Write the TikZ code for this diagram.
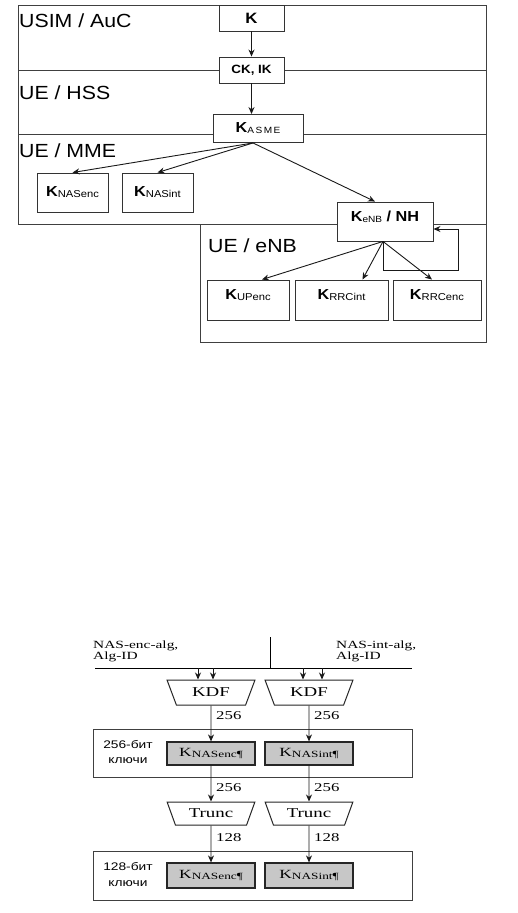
\documentclass[tikz,border=0pt]{standalone}
\usepackage{fontspec}
\setmainfont{Liberation Sans}
\newfontfamily\topf[FakeStretch=1.12]{Liberation Sans}
\newfontfamily\serw[FakeStretch=1.4]{Liberation Serif}
\newfontfamily\sanw[FakeStretch=1.25]{Liberation Sans}
\usetikzlibrary{arrows.meta,shapes.geometric}
\newcommand\myfs[1]{\fontsize{#1}{#1}\selectfont}
\newcommand\kk[2]{{\topf\bfseries\myfs{14.5}K}\raisebox{-1pt}{\topf\myfs{#1}#2}}
\newcommand\gk[1]{{\serw\myfs{12.5}K}\raisebox{-1.5pt}{\serw\myfs{9.5}#1}}
\begin{document}
\begin{tikzpicture}[x=1pt,y=-1pt,
  frame/.style={draw=black!75, line width=0.9pt},
  kbox/.style={draw=black!80, fill=white, line width=0.9pt, inner sep=0pt},
  lbl/.style={inner sep=0pt},
  arr/.style={-{Stealth[length=7pt,width=6pt]}, line width=0.9pt, draw=black!90},
  region/.style={font=\topf\myfs{19}, anchor=base west, inner sep=0pt},
  trap/.style={trapezium, shape border rotate=180, trapezium stretches=true,
    trapezium left angle=60, trapezium right angle=60, minimum width=88pt,
    draw=black!85, line width=1pt, inner sep=0pt, font=\serw\myfs{13.5}},
  gbox/.style={draw=black!85, fill=black!22, line width=1.2pt, minimum width=88pt, inner sep=0pt},
  obox/.style={draw=black!75, line width=1pt},
  num/.style={font=\serw\myfs{12}, anchor=west, inner sep=0pt},
  side/.style={font=\sanw\myfs{11}, align=center, inner sep=0pt},
  alg/.style={font=\serw\myfs{11}, align=left, anchor=north west, inner sep=0pt}
]
\useasboundingbox[fill=white] (0,0) rectangle (517,913);

% ---------- top diagram ----------
\draw[frame] (18,5) rectangle (486,224);
\draw[frame] (18,70) -- (486,70);
\draw[frame] (18,134) -- (486,134);
\draw[frame] (200,224) rectangle (486,342);

\node[region] (usim) at (19,27) {USIM / AuC};
\node[region] (hss) at (19,99) {UE / HSS};
\node[region] (mme) at (19,157) {UE / MME};
\node[region] (enb) at (208,252) {UE / eNB};

\node[kbox, minimum width=65pt, minimum height=26pt] (k) at (251.5,18) {\topf\bfseries\myfs{15}K};
\node[kbox, minimum width=65pt, minimum height=26pt] (ckik) at (251.5,70) {\topf\bfseries\myfs{12}CK, IK};
\node[kbox, minimum width=90pt, minimum height=28pt] (asme) at (258,128.5) {\kk{9}{A\,S\,M\,E}};

\node[kbox, minimum width=71pt, minimum height=39pt] (nasenc) at (72.5,192.5) {\kk{10}{NASenc}};
\node[kbox, minimum width=71pt, minimum height=39pt] (nasint) at (157.5,192.5) {\kk{10}{NASint}};
\node[kbox, minimum width=96pt, minimum height=39pt] (kenb) at (385,221.5) {};
\node[lbl] (kenbt) at ([yshift=4.5pt]kenb.center) {\kk{9}{eNB}{\topf\bfseries\myfs{14.5} / NH}};

\node[kbox, minimum width=82pt, minimum height=40pt] (upenc) at (248,300) {};
\node[kbox, minimum width=93pt, minimum height=40pt] (rrcint) at (341.5,300) {};
\node[kbox, minimum width=88pt, minimum height=40pt] (rrcenc) at (437,300) {};
\node[lbl] (upenct) at ([yshift=5pt]upenc.center) {\kk{10}{UPenc}};
\node[lbl] (rrcintt) at ([yshift=5pt]rrcint.center) {\kk{10}{RRCint}};
\node[lbl] (rrcenct) at ([yshift=5pt]rrcenc.center) {\kk{10}{RRCenc}};

\draw[arr] (k.south) -- (ckik.north);
\draw[arr] (ckik.south) -- (ckik.south |- asme.north);
\coordinate (asmeo) at ([xshift=-5pt]asme.south);
\draw[arr] (asmeo) -- (nasenc.north);
\draw[arr] (asmeo) -- (nasint.north);
\draw[arr] (asmeo) -- ([xshift=-10pt]kenb.north);

\coordinate (kenbo) at ([xshift=-2pt]kenb.south);
\draw[arr] (kenbo) -- ([xshift=14pt]upenc.north);
\draw[arr] (kenbo) -- ([xshift=21pt]rrcint.north);
\draw[arr] (kenbo) -- ([xshift=-5pt]rrcenc.north);
\coordinate (lp) at (458,270);
\draw[arr] (kenbo) |- (lp) |- ([yshift=-7.5pt]kenb.east);

% ---------- bottom diagram ----------
\coordinate (hl) at (95,668);
\coordinate (hr) at (412,668);
\coordinate (vt) at (270,637);
\draw[line width=1pt] (hl) -- (hr);
\draw[line width=1pt] (vt) -- (vt |- hl);

\node[alg] (alg1) at (93,641) {NAS-enc-alg,\\Alg-ID};
\node[alg] (alg2) at (336,641) {NAS-int-alg,\\Alg-ID};

\node[trap, minimum height=25pt] (kdf1) at (211,692.5) {KDF};
\node[trap, minimum height=25pt] (kdf2) at (309,692.5) {KDF};

\coordinate (c1) at (198,668);
\coordinate (c2) at (213,668);
\coordinate (c3) at (303,668);
\coordinate (c4) at (322,668);
\draw[arr] (c1) -- (c1 |- kdf1.north);
\draw[arr] (c2) -- (c2 |- kdf1.north);
\draw[arr] (c3) -- (c3 |- kdf2.north);
\draw[arr] (c4) -- (c4 |- kdf2.north);

\draw[obox] (93,729) rectangle (412,777);
\draw[obox] (93,851) rectangle (412,900);

\node[gbox, minimum height=23pt] (g1) at (211,753.5) {\gk{NASenc¶}};
\node[gbox, minimum height=23pt] (g2) at (309,753.5) {\gk{NASint¶}};
\node[side] (s256) at (128,752) {256-бит\\[4pt]ключи};

\node[trap, minimum height=23pt] (tr1) at (211,813.5) {Trunc};
\node[trap, minimum height=23pt] (tr2) at (309,813.5) {Trunc};

\node[gbox, minimum height=25pt] (g3) at (211,875.5) {\gk{NASenc¶}};
\node[gbox, minimum height=25pt] (g4) at (309,875.5) {\gk{NASint¶}};
\node[side] (s128) at (128,875) {128-бит\\[5pt]ключи};

\draw[arr] (kdf1.south) -- (g1.north);
\draw[arr] (kdf2.south) -- (g2.north);
\draw[arr] (g1.south) -- (tr1.north);
\draw[arr] (g2.south) -- (tr2.north);
\draw[arr] (tr1.south) -- (g3.north);
\draw[arr] (tr2.south) -- (g4.north);

\node[num] (n1) at (216,716) {256};
\node[num] (n2) at (314,716) {256};
\node[num] (n3) at (216,788) {256};
\node[num] (n4) at (314,788) {256};
\node[num] (n5) at (216,838) {128};
\node[num] (n6) at (314,838) {128};
\end{tikzpicture}
\end{document}
